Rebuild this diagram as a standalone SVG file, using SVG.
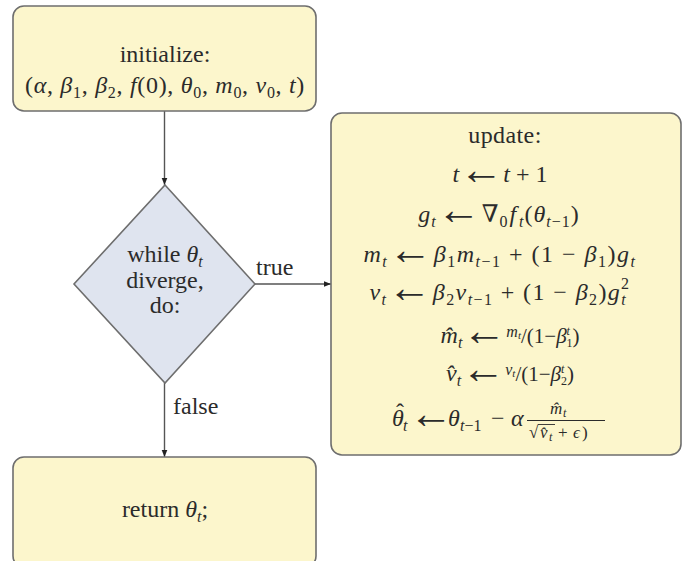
<svg xmlns="http://www.w3.org/2000/svg" width="696" height="561" viewBox="0 0 696 561">
<defs>
<style>
.box{fill:#fcf6cc;stroke:#6e6e6e;stroke-width:1.6}
.dia{fill:#dfe4ef;stroke:#6e6e6e;stroke-width:1.6}
.edge{stroke:#555;stroke-width:1.4;fill:none;marker-end:url(#ah)}
text{font-family:"Liberation Serif","DejaVu Serif",serif;fill:#2b2b2b;font-size:24px}
.c{text-anchor:middle}
.i{font-style:italic}
.s{font-size:16px}
.ss{font-size:17px}
.t{font-size:12px}
.ar{font-size:44px}
</style>
<marker id="ah" viewBox="0 0 10 10" refX="10" refY="5" markerWidth="7" markerHeight="7" orient="auto" markerUnits="userSpaceOnUse">
<path d="M0,1 L10,5 L0,9 z" fill="#222"/>
</marker>
</defs>
<rect width="696" height="561" fill="#ffffff"/>
<g id="connectors">
<line class="edge" x1="164.5" y1="111" x2="164.5" y2="185"/>
<line class="edge" x1="255" y1="284" x2="331" y2="284"/>
<line class="edge" x1="164.5" y1="383" x2="164.5" y2="457"/>
<text x="256" y="275">true</text>
<text x="173" y="414">false</text>
</g>
<g id="init">
<rect class="box" x="13" y="6" width="303" height="105" rx="11"/>
<text class="c" x="165" y="62">initialize:</text>
<text class="c" x="165" y="93" letter-spacing="0.7">(<tspan class="i">α</tspan>, <tspan class="i">β</tspan><tspan class="s" dy="5">1</tspan><tspan dy="-5">, </tspan><tspan class="i">β</tspan><tspan class="s" dy="5">2</tspan><tspan dy="-5">, </tspan><tspan class="i">f</tspan>(0), <tspan class="i">θ</tspan><tspan class="s" dy="5">0</tspan><tspan dy="-5">, </tspan><tspan class="i">m</tspan><tspan class="s" dy="5">0</tspan><tspan dy="-5">, </tspan><tspan class="i">v</tspan><tspan class="s" dy="5">0</tspan><tspan dy="-5">, </tspan><tspan class="i">t</tspan>)</text>
</g>
<g id="cond">
<polygon class="dia" points="165,185 255,284 165,383 74,284"/>
<text class="c" x="165" y="262">while <tspan class="i">θ</tspan><tspan class="s i" dy="5">t</tspan></text>
<text class="c" x="165" y="288">diverge,</text>
<text class="c" x="165" y="313">do:</text>
</g>
<g id="update">
<rect class="box" x="331" y="113" width="350" height="342" rx="11"/>
<text class="c" x="505" y="143" letter-spacing="0.4">update:</text>
<text class="c" x="500" y="182"><tspan class="i">t</tspan><tspan class="ar" dy="2">←</tspan><tspan class="i" dy="-2">t</tspan> + 1</text>
<text class="c" x="499" y="222" letter-spacing="1"><tspan class="i">g</tspan><tspan class="s i" dy="5">t</tspan><tspan class="ar" dy="-3">←</tspan><tspan dy="-2">∇</tspan><tspan class="s" dy="5">0</tspan><tspan class="i" dx="1" dy="-5">f</tspan><tspan class="s i" dx="2" dy="5">t</tspan><tspan dy="-5">(</tspan><tspan class="i">θ</tspan><tspan class="s" dy="5"><tspan class="i">t</tspan>−1</tspan><tspan dy="-5">)</tspan></text>
<text class="c" x="500" y="262" letter-spacing="1.5"><tspan class="i">m</tspan><tspan class="s i" dy="5">t</tspan><tspan class="ar" dy="-3">←</tspan><tspan class="i" dy="-2">β</tspan><tspan class="s" dy="5">1</tspan><tspan class="i" dy="-5">m</tspan><tspan class="s" dy="5"><tspan class="i">t</tspan>−1</tspan><tspan dy="-5"> + (1 − </tspan><tspan class="i">β</tspan><tspan class="s" dy="5">1</tspan><tspan dy="-5">)</tspan><tspan class="i">g</tspan><tspan class="s i" dy="5">t</tspan></text>
<text class="c" x="500" y="300" letter-spacing="1.4"><tspan class="i">v</tspan><tspan class="s i" dy="5">t</tspan><tspan class="ar" dy="-3">←</tspan><tspan class="i" dy="-2">β</tspan><tspan class="s" dy="5">2</tspan><tspan class="i" dy="-5">v</tspan><tspan class="s" dy="5"><tspan class="i">t</tspan>−1</tspan><tspan dy="-5"> + (1 − </tspan><tspan class="i">β</tspan><tspan class="s" dy="5">2</tspan><tspan dy="-5">)</tspan><tspan class="i">g</tspan><tspan class="s i" dy="5">t</tspan><tspan class="s" dx="-6" dy="-16">2</tspan></text>
<text class="c" x="510" y="343"><tspan class="i">m̂</tspan><tspan class="s i" dy="5">t</tspan><tspan class="ar" dy="-3">←</tspan><tspan class="i" font-size="16" dy="-8">m</tspan><tspan class="i" font-size="11" dy="2">t</tspan><tspan font-size="21" dy="4">/(1−</tspan><tspan class="i" font-size="21">β</tspan><tspan class="i" font-size="12" dy="-8">t</tspan><tspan font-size="12" dx="-3.5" dy="12">1</tspan><tspan font-size="21" dy="-4">)</tspan></text>
<text class="c" x="510" y="381"><tspan class="i">v̂</tspan><tspan class="s i" dy="5">t</tspan><tspan class="ar" dy="-3">←</tspan><tspan class="i" font-size="16" dy="-8">v</tspan><tspan class="i" font-size="11" dy="2">t</tspan><tspan font-size="21" dy="4">/(1−</tspan><tspan class="i" font-size="21">β</tspan><tspan class="i" font-size="12" dy="-8">t</tspan><tspan font-size="12" dx="-3.5" dy="12">2</tspan><tspan font-size="21" dy="-4">)</tspan></text>
<text y="426"><tspan class="i" x="392">θ</tspan><tspan class="s i" x="403" y="431">t</tspan><tspan class="ar" x="409" y="428">←</tspan><tspan class="i" x="448" y="426">θ</tspan><tspan class="s" x="460" y="431"><tspan class="i">t</tspan>−1</tspan><tspan x="491" y="426">−</tspan><tspan class="i" x="511">α</tspan></text>
<text x="400" y="420" class="c">ˆ</text>
<text y="414" class="ss"><tspan class="i" x="550">m̂</tspan><tspan class="t i" x="563" y="417">t</tspan></text>
<line x1="527" y1="420.5" x2="605" y2="420.5" stroke="#2b2b2b" stroke-width="1"/>
<text y="438" class="ss"><tspan x="529">√</tspan><tspan class="i" x="540">v̂</tspan><tspan class="t i" x="549" y="441">t</tspan><tspan x="558" y="438">+</tspan><tspan class="i" x="573">ϵ</tspan><tspan x="582">)</tspan></text>
<line x1="538" y1="424.5" x2="555" y2="424.5" stroke="#2b2b2b" stroke-width="0.9"/>
</g>
<g id="ret">
<rect class="box" x="13" y="457" width="303" height="110" rx="11"/>
<text class="c" x="165" y="517">return <tspan class="i">θ</tspan><tspan class="s i" dy="5">t</tspan><tspan dy="-5">;</tspan></text>
</g>
</svg>
